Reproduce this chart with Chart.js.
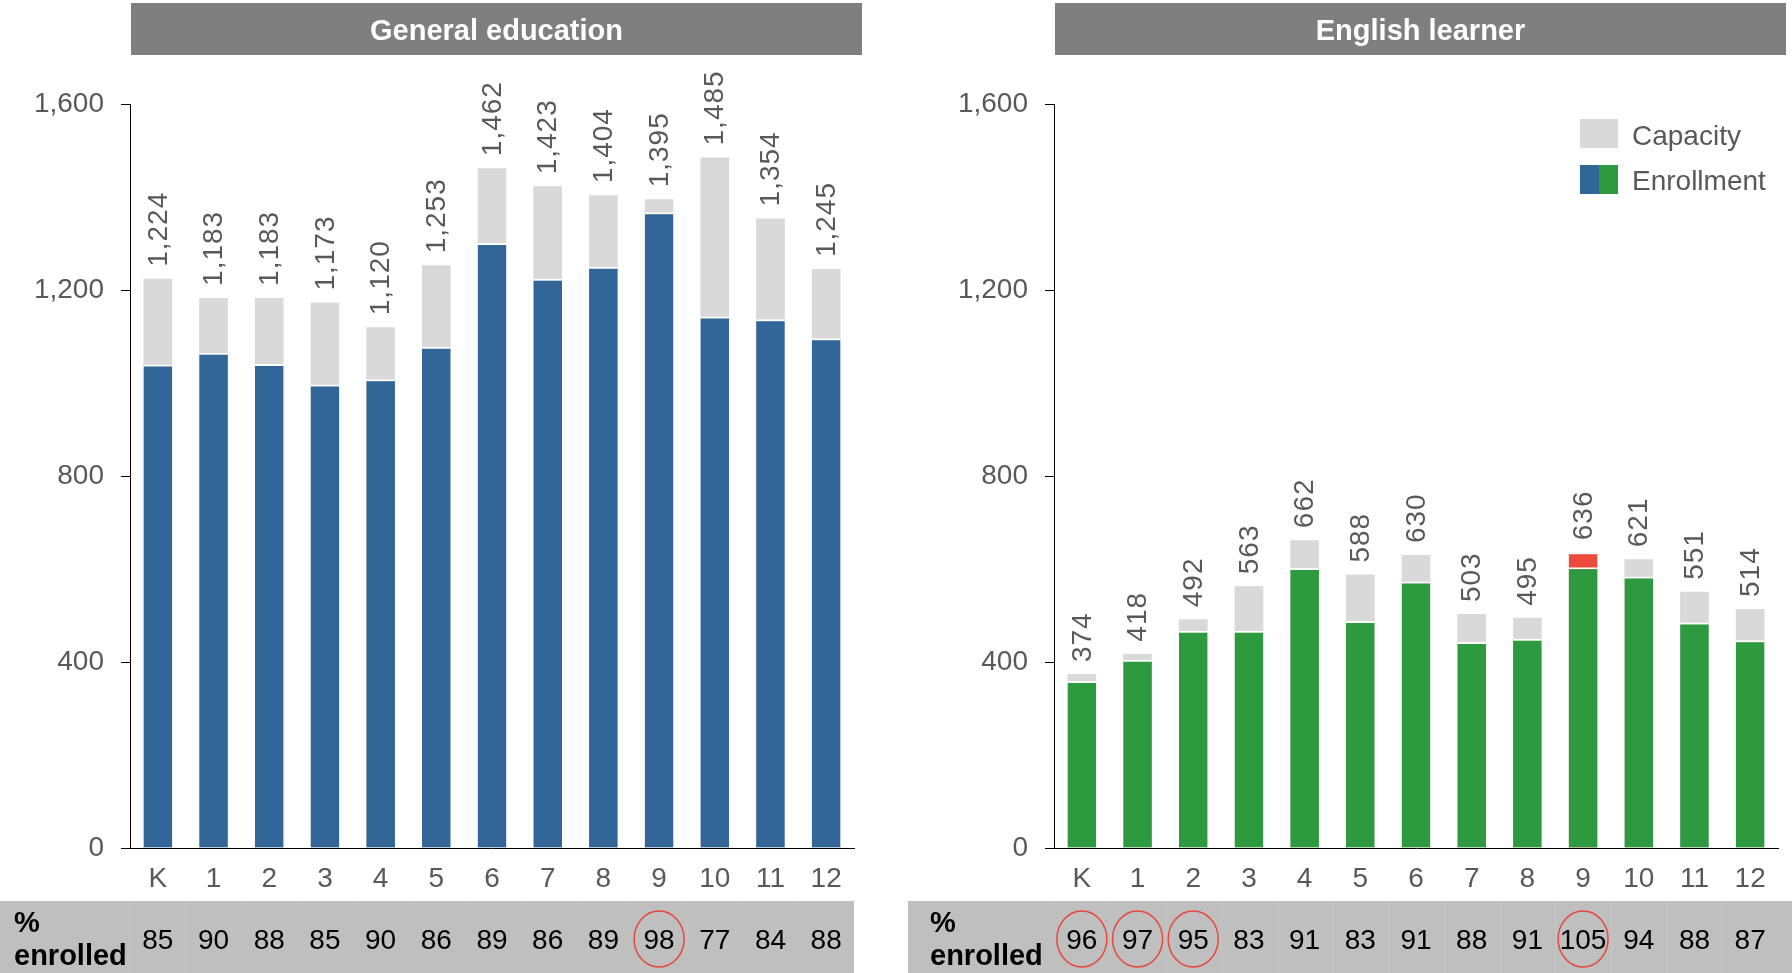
<!DOCTYPE html>
<html>
<head>
<meta charset="utf-8">
<script src="https://cdn.jsdelivr.net/npm/chart.js@4.4.1/dist/chart.umd.min.js"></script>
<style>
  html, body { margin: 0; padding: 0; background: #fff; }
  #wrap { position: relative; width: 1792px; height: 973px; overflow: hidden; }
  .panel { position: absolute; top: 0; }
</style>
</head>
<body>
<div id="wrap">
  <div class="panel" style="left:0px"><canvas id="geChart" width="880" height="973"></canvas></div>
  <div class="panel" style="left:880px"><canvas id="elChart" width="912" height="973"></canvas></div>
</div>
<script>
const grades = ["K", "1", "2", "3", "4", "5", "6", "7", "8", "9", "10", "11", "12"];
const yTicks = [0, 400, 800, 1200, 1600];

// General education
const geCapacity = [1224, 1183, 1183, 1173, 1120, 1253, 1462, 1423, 1404, 1395, 1485, 1354, 1245];
const geEnrolled = [1040, 1065, 1041, 997, 1008, 1078, 1301, 1224, 1250, 1367, 1143, 1137, 1096];
const gePct = [85, 90, 88, 85, 90, 86, 89, 86, 89, 98, 77, 84, 88];
const geCircled = [9];

// English learner
const elCapacity = [374, 418, 492, 563, 662, 588, 630, 503, 495, 636, 621, 551, 514];
const elEnrolled = [359, 405, 467, 467, 602, 488, 573, 443, 450, 604, 584, 485, 447];
const elOverCap = [null, null, null, null, null, null, null, null, null, 636, null, null, null];
const elPct = [96, 97, 95, 83, 91, 83, 91, 88, 91, 105, 94, 88, 87];
const elCircled = [0, 1, 2, 9];

const BLUE = "#326699";
const GREEN = "#2e9a40";
const RED = "#ef4b3c";
const GREY = "#d9d9d9";
const TEXT = "#595959";
const FONT = '"Liberation Sans", Arial, sans-serif';

Chart.defaults.font.family = FONT;
Chart.defaults.color = TEXT;

// title bar, capacity labels, % enrolled row, legend
const panelPlugin = {
    id: "panel",
    afterDatasetsDraw(chart, args, opts) {
        const ctx = chart.ctx;
        const capMeta = chart.getDatasetMeta(chart.data.datasets.length - 1);
        ctx.save();
        ctx.font = "28px " + FONT;
        ctx.letterSpacing = "1px";
        ctx.fillStyle = TEXT;
        ctx.textAlign = "left";
        ctx.textBaseline = "middle";
        opts.capacity.forEach((v, i) => {
            const bar = capMeta.data[i];
            ctx.save();
            ctx.translate(bar.x + 1, bar.y - 12);
            ctx.rotate(-Math.PI / 2);
            ctx.fillText(v.toLocaleString("en-US"), 0, 0);
            ctx.restore();
        });
        ctx.restore();
    },
    afterDraw(chart, args, opts) {
        const ctx = chart.ctx;
        const area = chart.chartArea;
        const x = chart.scales.x;
        ctx.save();

        // title bar
        ctx.fillStyle = "#7f7f7f";
        ctx.fillRect(area.left + 1, 3, 731, 52);
        ctx.fillStyle = "#fff";
        ctx.font = "bold 29px " + FONT;
        ctx.textAlign = "center";
        ctx.textBaseline = "middle";
        ctx.fillText(opts.title, area.left + 1 + 731 / 2, 32);

        // % enrolled band
        const bandRight = opts.bandRight === "area" ? area.right : chart.width;
        ctx.fillStyle = "#bfbfbf";
        ctx.fillRect(opts.bandLeft, 901, bandRight - opts.bandLeft, 72);
        ctx.strokeStyle = "#c4c4c4";
        ctx.lineWidth = 1;
        for (let i = 0; i < grades.length; i++) {
            const bx = Math.round(x.getPixelForValue(i) - (x.getPixelForValue(1) - x.getPixelForValue(0)) / 2) + 0.5;
            ctx.beginPath();
            ctx.moveTo(bx, 901);
            ctx.lineTo(bx, 973);
            ctx.stroke();
        }
        ctx.fillStyle = "#000";
        ctx.font = "bold 29px " + FONT;
        ctx.textAlign = "left";
        ctx.textBaseline = "alphabetic";
        ctx.fillText("%", opts.labelX, 932);
        ctx.fillText("enrolled", opts.labelX, 965);

        ctx.font = "28px " + FONT;
        ctx.textAlign = "center";
        opts.pct.forEach((p, i) => {
            ctx.fillText(String(p), x.getPixelForValue(i), 949);
        });
        ctx.strokeStyle = "#e8473b";
        ctx.lineWidth = 1.5;
        opts.circled.forEach(i => {
            ctx.beginPath();
            ctx.ellipse(x.getPixelForValue(i), 939, 25, 28, 0, 0, Math.PI * 2);
            ctx.stroke();
        });

        // legend
        if (opts.legend) {
            ctx.fillStyle = GREY;
            ctx.fillRect(700, 119, 38, 29);
            ctx.fillStyle = BLUE;
            ctx.fillRect(700, 165, 19, 29);
            ctx.fillStyle = GREEN;
            ctx.fillRect(719, 165, 19, 29);
            ctx.fillStyle = TEXT;
            ctx.font = "28px " + FONT;
            ctx.textAlign = "left";
            ctx.textBaseline = "middle";
            ctx.fillText("Capacity", 752, 137);
            ctx.fillText("Enrollment", 752, 182);
        }
        ctx.restore();
    }
};

function makeOptions(yWidth, rightPad, panelOpts) {
    return {
        responsive: false,
        animation: false,
        devicePixelRatio: 1,
        layout: { padding: { top: 104, left: 0, right: rightPad, bottom: 0 } },
        plugins: {
            legend: { display: false },
            tooltip: { enabled: false },
            panel: panelOpts
        },
        scales: {
            x: {
                stacked: true,
                grid: { display: false },
                border: { display: true, color: "#000", width: 1 },
                ticks: { font: { size: 28 }, color: TEXT, padding: 6, maxRotation: 0, autoSkip: false },
                afterFit: s => { s.height = 125; }
            },
            y: {
                stacked: false,
                min: 0,
                max: 1600,
                afterBuildTicks: s => { s.ticks = yTicks.map(v => ({ value: v })); },
                grid: { drawOnChartArea: false, color: "#000", tickLength: 9 },
                border: { display: true, color: "#000", width: 1 },
                ticks: { font: { size: 28 }, color: TEXT, padding: 17 },
                afterFit: s => { s.width = yWidth; }
            }
        }
    };
}

const barStyle = {
    categoryPercentage: 1,
    barPercentage: 0.515,
    borderColor: "#fff",
    borderWidth: { top: 2, left: 0, right: 0, bottom: 0 },
    borderSkipped: "start"
};

new Chart(document.getElementById("geChart"), {
    type: "bar",
    data: {
        labels: grades,
        datasets: [
            Object.assign({ label: "Enrollment", data: geEnrolled, backgroundColor: BLUE }, barStyle),
            Object.assign({ label: "Capacity", data: geCapacity, backgroundColor: GREY }, barStyle, { borderWidth: 0 })
        ]
    },
    options: makeOptions(130, 26, {
        title: "General education", capacity: geCapacity, pct: gePct, circled: geCircled,
        bandLeft: 0, bandRight: "area", labelX: 14, legend: false
    }),
    plugins: [panelPlugin]
});

new Chart(document.getElementById("elChart"), {
    type: "bar",
    data: {
        labels: grades,
        datasets: [
            Object.assign({ label: "Enrollment", data: elEnrolled, backgroundColor: GREEN }, barStyle),
            Object.assign({ label: "Over capacity", data: elOverCap, backgroundColor: RED }, barStyle),
            Object.assign({ label: "Capacity", data: elCapacity, backgroundColor: GREY }, barStyle, { borderWidth: 0 })
        ]
    },
    options: makeOptions(174, 14, {
        title: "English learner", capacity: elCapacity, pct: elPct, circled: elCircled,
        bandLeft: 28, bandRight: "canvas", labelX: 50, legend: true
    }),
    plugins: [panelPlugin]
});
</script>
</body>
</html>
